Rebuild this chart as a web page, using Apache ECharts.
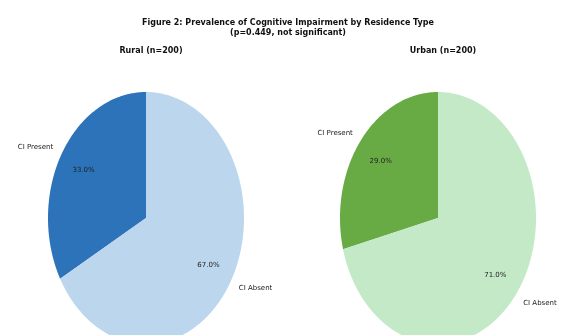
<!DOCTYPE html>
<html>
<head>
<meta charset="utf-8">
<script src="https://cdn.jsdelivr.net/npm/echarts@6/dist/echarts.min.js"></script>
<style>
  html, body { margin: 0; padding: 0; background: #fff; }
  #chart { width: 565px; height: 335px; }
</style>
</head>
<body>
<div id="chart"></div>
<script>
// Figure 2 - CI prevalence by residence (two stretched pies)
const categories = ['CI Present', 'CI Absent'];
const ruralValues = [33.0, 67.0];
const urbanValues = [29.0, 71.0];
const groupTitles = ['Rural (n=200)', 'Urban (n=200)'];

const ruralColors = ['#2c73b9', '#bcd6ed'];
const urbanColors = ['#68ab45', '#c3e9c6'];

const chart = echarts.init(document.getElementById('chart'));

// pie is drawn as an ellipse like the matplotlib figure (aspect not equal)
function ellipsePie(values, colors, cx) {
  const total = values.reduce((a, b) => a + b, 0);
  let acc = 0;
  const data = values.map((v, i) => {
    const item = { name: categories[i], value: [v, acc] };
    acc += v;
    return item;
  });
  const cy = 218, rx = 98, ry = 126;
  return {
    type: 'custom',
    coordinateSystem: 'none',
    silent: true,
    data: data,
    renderItem: function (params, api) {
      const i = params.dataIndex;
      const v = api.value(0);
      const start = api.value(1);
      const a0 = 90 + start / total * 360;
      const a1 = a0 + v / total * 360;
      const pts = [[cx, cy]];
      for (let a = a0; a < a1; a += 1) {
        const r = a * Math.PI / 180;
        pts.push([cx + rx * Math.cos(r), cy - ry * Math.sin(r)]);
      }
      const re = a1 * Math.PI / 180;
      pts.push([cx + rx * Math.cos(re), cy - ry * Math.sin(re)]);
      const am = (a0 + a1) / 2 * Math.PI / 180;
      const c = Math.cos(am), s = Math.sin(am);
      return {
        type: 'group',
        children: [
          {
            type: 'polygon',
            shape: { points: pts },
            style: { fill: colors[i], stroke: null }
          },
          {
            type: 'text',
            x: cx + 0.74 * rx * c,
            y: cy - 0.74 * ry * s,
            style: {
              text: (v / total * 100).toFixed(1) + '%',
              fill: '#222', font: '7px "DejaVu Sans"',
              align: 'center', verticalAlign: 'middle'
            }
          },
          {
            type: 'text',
            x: cx + 1.1 * rx * c,
            y: cy - 1.1 * ry * s,
            style: {
              text: categories[i],
              fill: '#222', font: '7px "DejaVu Sans"',
              align: c < 0 ? 'right' : 'left', verticalAlign: 'middle'
            }
          }
        ]
      };
    }
  };
}

const option = {
  backgroundColor: '#fff',
  animation: false,
  title: [
    {
      text: 'Figure 2: Prevalence of Cognitive Impairment by Residence Type\n(p=0.449, not significant)',
      left: 283, top: 13, textAlign: 'center',
      textStyle: { fontFamily: 'DejaVu Sans', fontSize: 8, fontWeight: 'bold', color: '#111', lineHeight: 10 }
    },
    {
      text: groupTitles[0],
      left: 146, top: 42, textAlign: 'center',
      textStyle: { fontFamily: 'DejaVu Sans', fontSize: 8, fontWeight: 'bold', color: '#111' }
    },
    {
      text: groupTitles[1],
      left: 438, top: 42, textAlign: 'center',
      textStyle: { fontFamily: 'DejaVu Sans', fontSize: 8, fontWeight: 'bold', color: '#111' }
    }
  ],
  series: [
    ellipsePie(ruralValues, ruralColors, 146),
    ellipsePie(urbanValues, urbanColors, 438)
  ]
};
chart.setOption(option);
</script>
</body>
</html>
